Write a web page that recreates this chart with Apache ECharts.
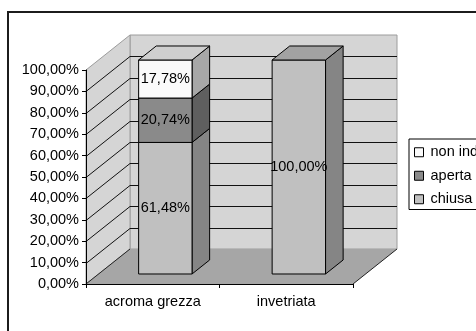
<!DOCTYPE html>
<html>
<head>
<meta charset="utf-8">
<script src="https://cdn.jsdelivr.net/npm/echarts@6/dist/echarts.min.js"></script>
<style>
  html, body { margin: 0; padding: 0; background: #fff; }
  #chart { width: 476px; height: 331px; }
</style>
</head>
<body>
<div id="chart"></div>
<script>
// Data: share of each closure type per ware class
const categories = ['acroma grezza', 'invetriata'];
const chiusa = [0.6148, 1.0];
const aperta = [0.2074, 0];
const nonIndicata = [0.1778, 0];
const yTickValues = [0, 0.1, 0.2, 0.3, 0.4, 0.5, 0.6, 0.7, 0.8, 0.9, 1.0];

const FONT = '"Liberation Sans", Arial, sans-serif';
const FS = 14.5;
// Screen offset of the full depth of the plot box (pseudo 3D)
const DEPTH = [44, -35];
// Bars occupy this depth slice and band fraction
const BAR_D0 = 0.286, BAR_D1 = 0.686, BAR_W = 0.4;

function pct(v) {
  return (v * 100).toFixed(2).replace('.', ',') + '%';
}

// Walls, floor and gridlines of the 3D box
function renderWalls(params, api) {
  const cs = params.coordSys;
  const x0 = cs.x, x1 = cs.x + cs.width;
  const yT = cs.y, yB = cs.y + cs.height;
  const dx = DEPTH[0], dy = DEPTH[1];
  const wall = '#d5d5d5', edge = '#9c9c9c';
  const kids = [];
  kids.push({ type: 'polygon', shape: { points: [[x0 + dx, yT + dy], [x1 + dx, yT + dy], [x1 + dx, yB + dy], [x0 + dx, yB + dy]] },
    style: { fill: wall, stroke: edge, lineWidth: 1 } });
  kids.push({ type: 'polygon', shape: { points: [[x0, yB], [x0, yT], [x0 + dx, yT + dy], [x0 + dx, yB + dy]] },
    style: { fill: wall, stroke: edge, lineWidth: 1 } });
  yTickValues.forEach(function (v) {
    if (v <= 0 || v >= 1) return;
    const y = Math.round(api.coord([0, v])[1]) + 0.5;
    kids.push({ type: 'polyline', shape: { points: [[x0, y], [x0 + dx, y + dy], [x1 + dx, y + dy]] },
      style: { fill: null, stroke: '#111', lineWidth: 1 } });
  });
  // floor
  kids.push({ type: 'polygon', shape: { points: [[x0, yB], [x1, yB], [x1 + dx, yB + dy], [x0 + dx, yB + dy]] },
    style: { fill: '#a6a6a6', stroke: null } });
  kids.push({ type: 'polyline', shape: { points: [[x0, yB], [x0 + dx, yB + dy]] }, style: { fill: null, stroke: '#222', lineWidth: 1 } });
  kids.push({ type: 'polyline', shape: { points: [[x1, yB], [x1 + dx, yB + dy]] }, style: { fill: null, stroke: '#222', lineWidth: 1 } });
  return { type: 'group', children: kids };
}

const totals = categories.map(function (_, i) { return chiusa[i] + aperta[i] + nonIndicata[i]; });

function barSeries(name, values, bases, colors) {
  return {
    type: 'custom',
    name: name,
    z: 3,
    itemStyle: { color: colors.front },
    data: values.map(function (v, i) { return [i, bases[i], v]; }),
    renderItem: function (params, api) {
      const i = api.value(0), base = api.value(1), v = api.value(2);
      if (!v) return null;
      const band = api.size([1, 0])[0];
      const cx = api.coord([i, 0])[0];
      const yLo = api.coord([i, base])[1];
      const yHi = api.coord([i, base + v])[1];
      const fdx = DEPTH[0] * BAR_D0, fdy = DEPTH[1] * BAR_D0;
      const bdx = DEPTH[0] * BAR_D1, bdy = DEPTH[1] * BAR_D1;
      const xl = cx - band * BAR_W / 2 + fdx, xr = cx + band * BAR_W / 2 + fdx;
      const yl = yLo + fdy, yh = yHi + fdy;
      const ddx = bdx - fdx, ddy = bdy - fdy;
      const st = { stroke: '#000', lineWidth: 1, lineJoin: 'round' };
      const kids = [];
      kids.push({ type: 'polygon', shape: { points: [[xr, yl], [xr, yh], [xr + ddx, yh + ddy], [xr + ddx, yl + ddy]] },
        style: Object.assign({ fill: colors.side }, st) });
      kids.push({ type: 'polygon', shape: { points: [[xl, yl], [xr, yl], [xr, yh], [xl, yh]] },
        style: Object.assign({ fill: colors.front }, st) });
      if (Math.abs(base + v - totals[i]) < 1e-9) {
        kids.push({ type: 'polygon', shape: { points: [[xl, yh], [xr, yh], [xr + ddx, yh + ddy], [xl + ddx, yh + ddy]] },
          style: Object.assign({ fill: colors.top }, st) });
      }
      kids.push({ type: 'text', style: { text: pct(v), x: (xl + xr) / 2, y: (yl + yh) / 2,
        fill: '#000', font: FS + 'px ' + FONT, align: 'center', verticalAlign: 'middle' } });
      return { type: 'group', children: kids };
    }
  };
}

const baseChiusa = categories.map(function () { return 0; });
const baseAperta = chiusa.slice();
const baseNon = chiusa.map(function (c, i) { return c + aperta[i]; });

const chart = echarts.init(document.getElementById('chart'), null, { renderer: 'canvas' });
chart.setOption({
  animation: false,
  backgroundColor: '#fff',
  graphic: [{
    type: 'rect', z: -10, silent: true,
    shape: { x: 8, y: 12, width: 600, height: 400 },
    style: { fill: null, stroke: '#1c1c1c', lineWidth: 2 }
  }],
  grid: { left: 86, top: 70, width: 267, height: 214, containLabel: false, outerBoundsMode: 'none' },
  xAxis: {
    type: 'category', data: categories, z: 5,
    axisLine: { lineStyle: { color: '#000', width: 1 } },
    axisTick: { show: true, length: 4, lineStyle: { color: '#000' } },
    axisLabel: { color: '#000', fontSize: FS, fontFamily: FONT, margin: 10 },
    splitLine: { show: false }
  },
  yAxis: {
    type: 'value', min: 0, max: 1, interval: 0.1, z: 5,
    axisLine: { show: true, lineStyle: { color: '#000', width: 1 } },
    axisTick: { show: true, length: 4, lineStyle: { color: '#000' } },
    axisLabel: { color: '#000', fontSize: FS, fontFamily: FONT, margin: 7, formatter: function (v) { return pct(v); } },
    splitLine: { show: false }
  },
  legend: {
    orient: 'vertical', left: 409, top: 139,
    data: ['non indicata', 'aperta', 'chiusa'],
    icon: 'rect', itemWidth: 9, itemHeight: 9, itemGap: 7,
    padding: [5, 8, 2, 5],
    borderColor: '#000', borderWidth: 1, backgroundColor: '#fff',
    itemStyle: { borderColor: '#000', borderWidth: 1 },
    textStyle: { color: '#000', fontSize: FS, fontFamily: FONT, lineHeight: 16.5, padding: [0, 0, 0, 2] },
    selectedMode: false
  },
  series: [
    { type: 'custom', name: 'box', z: 1, silent: true, data: [[0, 0]], renderItem: renderWalls },
    barSeries('chiusa', chiusa, baseChiusa, { front: '#c0c0c0', side: '#858585', top: '#a2a2a2' }),
    barSeries('aperta', aperta, baseAperta, { front: '#8a8a8a', side: '#5f5f5f', top: '#747474' }),
    barSeries('non indicata', nonIndicata, baseNon, { front: '#fafafa', side: '#a7a7a7', top: '#cfcfcf' })
  ]
});
</script>
</body>
</html>
